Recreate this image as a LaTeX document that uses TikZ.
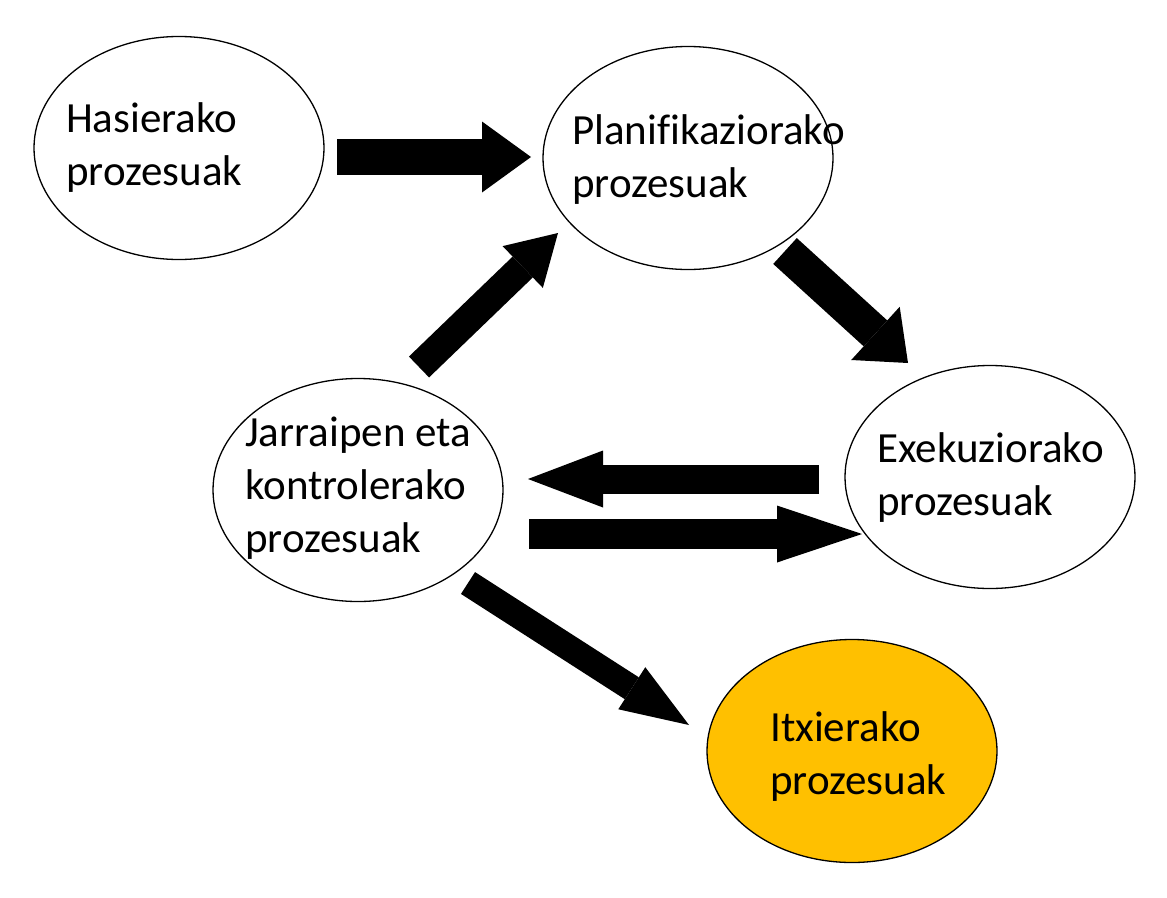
\documentclass[tikz,border=0pt]{standalone}
\usepackage{fontspec}
\setmainfont{Carlito}[Ligatures=NoCommon]
\usetikzlibrary{shapes.geometric,arrows.meta}
\definecolor{gold}{HTML}{FFC000}
\begin{document}
\begin{tikzpicture}[x=1pt,y=-1pt,
  proc/.style={ellipse,draw=black,line width=1.3pt,minimum width=290pt,minimum height=223pt,inner sep=0pt},
  lbl/.style={anchor=base west,align=left,inner sep=0pt,font=\fontsize{43}{53}\selectfont},
  barrow/.style n args={3}{line width=#1,line cap=butt,-{Triangle[length=#3,width=#2,line width=0pt]}}]
\useasboundingbox[fill=white] (0,0) rectangle (1167,897);
% process ellipses
\node[proc] (has) at (179,148) {};
\node[proc] (plan) at (688,158) {};
\node[proc] (jar) at (358,490) {};
\node[proc] (exe) at (990,477) {};
\node[proc,fill=gold] (itx) at (852,751) {};
% labels (anchored at the baseline of the last line)
\node[lbl] (hast) at (66,185) {Hasierako\\prozesuak};
\node[lbl] (plant) at (572,197) {Planifikaziorako\\prozesuak};
\node[lbl] (jart) at (245,552) {Jarraipen eta\\kontrolerako\\prozesuak};
\node[lbl] (exet) at (877,515) {Exekuziorako\\prozesuak};
\node[lbl] (itxt) at (770,794) {Itxierako\\prozesuak};
% arrow end points
\coordinate (a1t) at (337,157); \coordinate (a1h) at (531,157);
\coordinate (a2t) at (419,367); \coordinate (a2h) at (558,233);
\coordinate (a3t) at (785,251); \coordinate (a3h) at (908,363);
\coordinate (a4t) at (819,479); \coordinate (a4h) at (528,479);
\coordinate (a5t) at (529,534); \coordinate (a5h) at (862,534);
\coordinate (a6t) at (468,583); \coordinate (a6h) at (689,725);
% block arrows
\draw[barrow={36pt}{71pt}{49pt}] (a1t) -- (a1h);
\draw[barrow={29pt}{58pt}{49pt}] (a2t) -- (a2h);
\draw[barrow={35pt}{72pt}{44pt}] (a3t) -- (a3h);
\draw[barrow={29pt}{57pt}{75pt}] (a4t) -- (a4h);
\draw[barrow={30pt}{57pt}{85pt}] (a5t) -- (a5h);
\draw[barrow={26pt}{50pt}{68pt}] (a6t) -- (a6h);
\end{tikzpicture}
\end{document}
